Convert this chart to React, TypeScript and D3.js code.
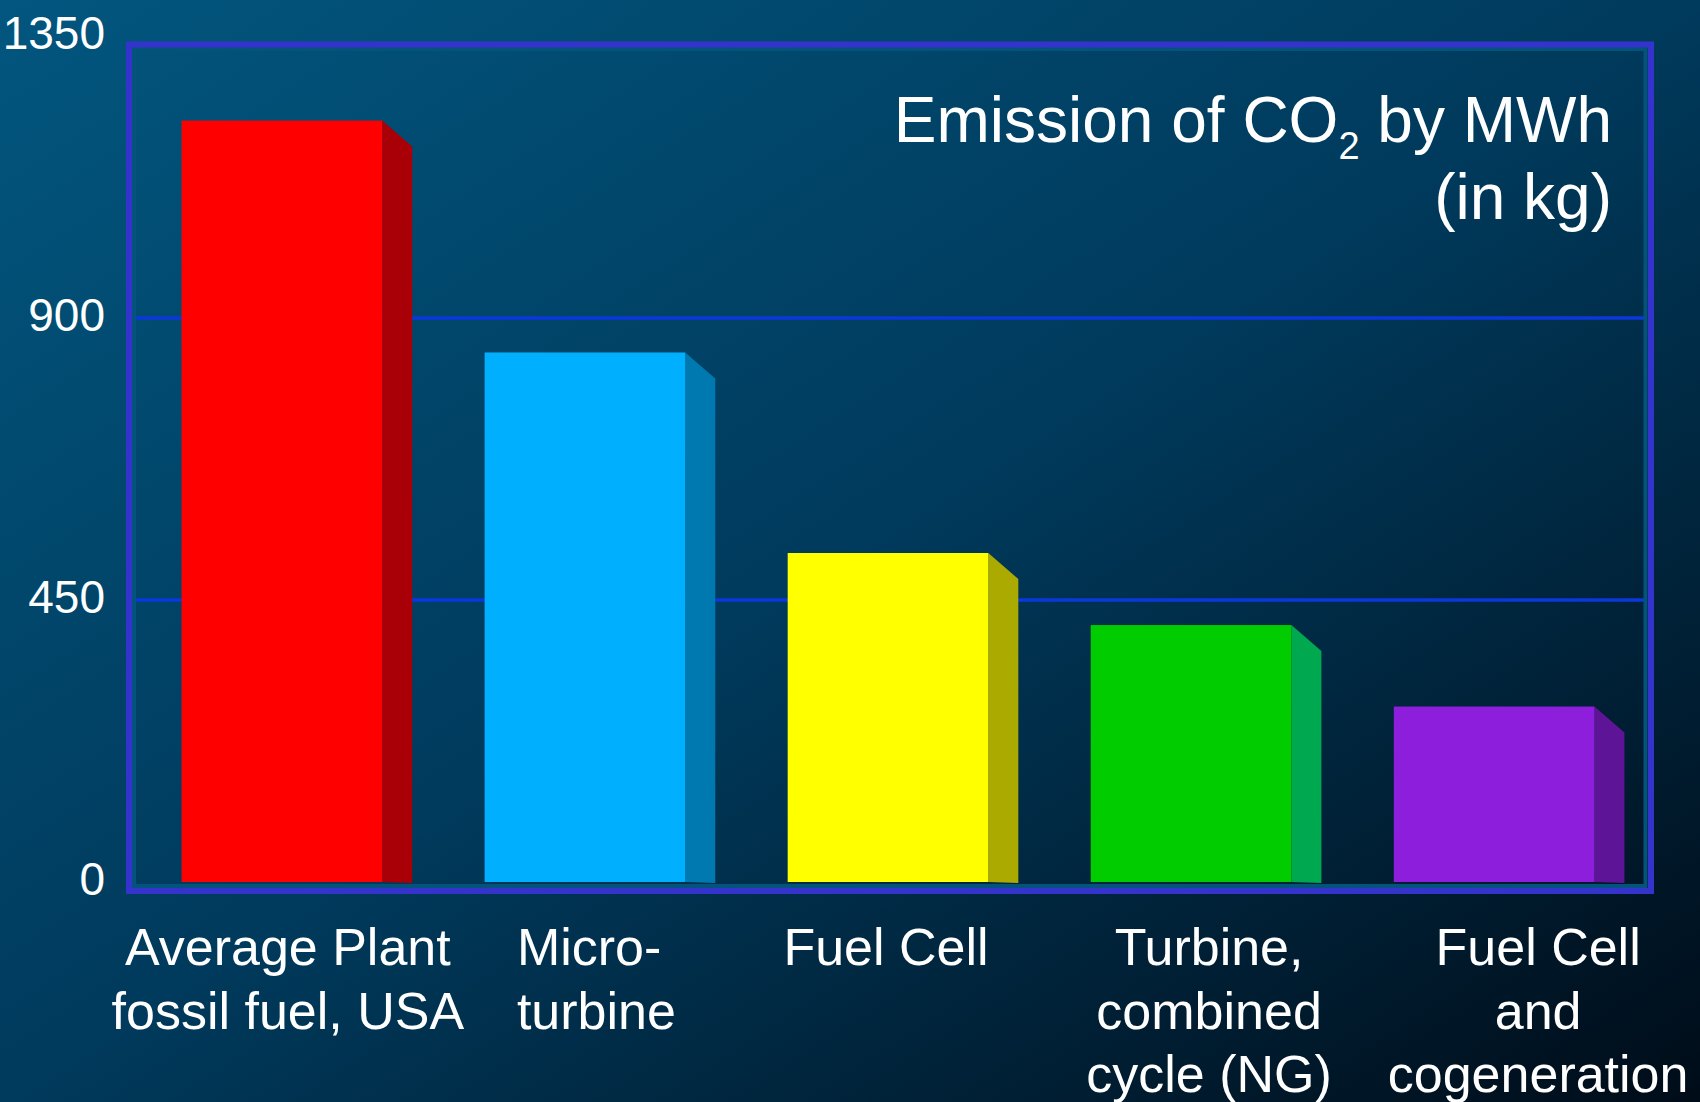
import * as d3 from 'd3';

const categories = ['avg', 'micro', 'fuelcell', 'turbine', 'cogen'];
const labelLines = [
  ['Average Plant', 'fossil fuel, USA'],
  ['Micro-', 'turbine'],
  ['Fuel Cell'],
  ['Turbine,', 'combined', 'cycle (NG)'],
  ['Fuel Cell', 'and', 'cogeneration'],
];
const values = [1215, 845, 525, 410, 280];
const yTicks = [0, 450, 900, 1350];

const frontColors = ['#ff0000', '#00b0ff', '#ffff00', '#00cc00', '#8c1edc'];
const sideColors = ['#a80006', '#0078b0', '#aaaa00', '#00a850', '#5e1496'];
// hand placement of the category labels, relative to bar centre
const labelAnchor = ['middle', 'start', 'middle', 'middle', 'middle'];
const labelDx = [6, -68, -2, 18, 44];

const W = 1700;
const H = 1102;
const FONT = '"Liberation Sans", Arial, Helvetica, sans-serif';

export default function App() {
  const x = d3.scaleBand()
    .domain(categories)
    .range([127, 1649])
    .paddingInner(0.338)
    .paddingOuter(0.18);

  const y = d3.scaleLinear()
    .domain([0, 1350])
    .range([882, 36]);

  const depthX = 30;
  const depthY = 26;
  const bw = x.bandwidth();

  return (
    <svg
      width={W}
      height={H}
      style={{ position: 'absolute', left: 0, top: 0, display: 'block' }}
    >
      <defs>
        <linearGradient id="bg" x1="0" y1="0" x2="1" y2="1">
          <stop offset="0%" stopColor="#02567f" />
          <stop offset="50%" stopColor="#003a5c" />
          <stop offset="100%" stopColor="#000c18" />
        </linearGradient>
      </defs>
      <rect x={0} y={0} width={W} height={H} fill="url(#bg)" />

      {/* gridlines */}
      {yTicks.filter(t => t > 0 && t < 1350).map(t => (
        <line
          key={'g' + t}
          x1={136}
          x2={1646}
          y1={y(t)}
          y2={y(t)}
          stroke="#0a38da"
          strokeWidth={3.5}
        />
      ))}

      {/* frame */}
      <rect x={134} y={49} width={1511.5} height={837} fill="none" stroke="#03537c" strokeWidth={4} />
      <rect x={129} y={44.5} width={1522} height={846.5} fill="none" stroke="#3434cc" strokeWidth={6} />

      {/* bars */}
      {categories.map((c, i) => {
        const x0 = x(c) as number;
        const xr = x0 + bw;
        const yt = y(values[i]);
        const yb = y(0);
        const side = [
          [xr, yt],
          [xr + depthX, yt + depthY],
          [xr + depthX, yb + 1],
          [xr, yb],
        ].map(p => p.join(',')).join(' ');
        return (
          <g key={c}>
            <polygon points={side} fill={sideColors[i]} />
            <rect x={x0} y={yt} width={bw} height={yb - yt} fill={frontColors[i]} />
          </g>
        );
      })}

      {/* y tick labels */}
      {yTicks.map(t => (
        <text
          key={'t' + t}
          x={105}
          y={y(t) + 13}
          textAnchor="end"
          fill="#ffffff"
          fontFamily={FONT}
          fontSize={46}
        >
          {t}
        </text>
      ))}

      {/* category labels */}
      {categories.map((c, i) => (
        <text
          key={'l' + c}
          x={(x(c) as number) + bw / 2 + labelDx[i]}
          y={965}
          textAnchor={labelAnchor[i]}
          fill="#ffffff"
          fontFamily={FONT}
          fontSize={52}
        >
          {labelLines[i].map((line, j) => (
            <tspan key={j} x={(x(c) as number) + bw / 2 + labelDx[i]} dy={j === 0 ? 0 : 63.5}>
              {line}
            </tspan>
          ))}
        </text>
      ))}

      {/* title */}
      <text x={1612} y={142} textAnchor="end" fill="#ffffff" fontFamily={FONT} fontSize={64}>
        Emission of CO
        <tspan fontSize={38} dy={17}>2</tspan>
        <tspan dy={-17}> by MWh</tspan>
      </text>
      <text x={1612} y={219} textAnchor="end" fill="#ffffff" fontFamily={FONT} fontSize={64}>
        (in kg)
      </text>
    </svg>
  );
}
